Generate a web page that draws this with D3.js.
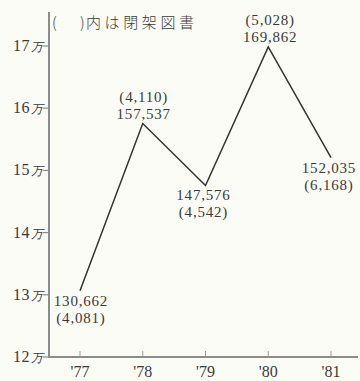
<!DOCTYPE html>
<html>
<head>
<meta charset="utf-8">
<script src="https://cdn.jsdelivr.net/npm/d3@7"></script>
<style>
html,body{margin:0;padding:0;background:#fcfcf6;}
svg{display:block;}
text{font-family:"Liberation Serif","DejaVu Serif",serif;fill:#3a3a3a;}
</style>
</head>
<body>
<script>
const years = ["'77","'78","'79","'80","'81"];
const totals = [130662, 157537, 147576, 169862, 152035];
const closedStacks = ["4,081","4,110","4,542","5,028","6,168"];
const totalLabels = ["130,662","157,537","147,576","169,862","152,035"];
const yTicks = [120000,130000,140000,150000,160000,170000];
const yTickLabels = ["12","13","14","15","16","17"];
// label placement: "below" = total then (closed) under point, "above" = (closed) then total above point
const labelPos = ["below","above","below","above","below"];
const noteBracket = "(";
const noteBracketClose = ")";
const noteText = "内は閉架図書";

const W = 360, H = 381;
const svg = d3.select("body").append("svg").attr("width", W).attr("height", H);

const x = d3.scalePoint().domain(years).range([80, 331]);
const y = d3.scaleLinear().domain([120000, 170000]).range([357, 46]);

// axes
svg.append("line").attr("x1",49).attr("x2",49).attr("y1",12).attr("y2",357.5)
  .attr("stroke","#8c8c8c").attr("stroke-width",2);
svg.append("line").attr("x1",48).attr("x2",358).attr("y1",357).attr("y2",357)
  .attr("stroke","#8c8c8c").attr("stroke-width",2);

// y ticks
const yt = svg.append("g");
yTicks.forEach((v,i)=>{
  const yy = y(v);
  yt.append("line").attr("x1",43).attr("x2",49).attr("y1",yy).attr("y2",yy)
    .attr("stroke","#8c8c8c").attr("stroke-width",1.2);
  const t = yt.append("text").attr("x",43).attr("y",yy+5).attr("text-anchor","end");
  t.append("tspan").attr("font-size",16).attr("letter-spacing",0.5).text(yTickLabels[i]);
  t.append("tspan").attr("font-size",12).attr("font-style","italic").attr("dx",1).text("万");
});

// x ticks
years.forEach(yr=>{
  const xx = x(yr);
  svg.append("line").attr("x1",xx).attr("x2",xx).attr("y1",351).attr("y2",357)
    .attr("stroke","#9a9a9a").attr("stroke-width",1);
  svg.append("text").attr("x",xx).attr("y",377).attr("text-anchor","middle")
    .attr("font-size",16).text(yr);
});

// line
const line = d3.line().x((d,i)=>x(years[i])).y(d=>y(d));
svg.append("path").datum(totals).attr("d",line).attr("fill","none")
  .attr("stroke","#333").attr("stroke-width",1.5);

// labels
const nudges = [1,1,-2,2,-2];
totals.forEach((v,i)=>{
  const xx = x(years[i]) + nudges[i];
  const yy = y(v);
  const g = svg.append("g").attr("font-size",15).attr("letter-spacing",0.8);
  if (labelPos[i]==="above"){
    g.append("text").attr("x",xx).attr("y",yy-22).attr("text-anchor","middle").text("("+closedStacks[i]+")");
    g.append("text").attr("x",xx).attr("y",yy-5).attr("text-anchor","middle").text(totalLabels[i]);
  } else {
    g.append("text").attr("x",xx).attr("y",yy+15).attr("text-anchor","middle").text(totalLabels[i]);
    g.append("text").attr("x",xx).attr("y",yy+32).attr("text-anchor","middle").text("("+closedStacks[i]+")");
  }
});

// note
const nt = svg.append("text").attr("y",28).attr("font-size",15)
  .style("font-family","'Noto Sans CJK JP',sans-serif").style("font-weight",300);
nt.append("tspan").attr("x",52).text(noteBracket);
nt.append("tspan").attr("x",80).text(noteBracketClose);
nt.append("tspan").attr("x",86).attr("textLength",108).attr("lengthAdjust","spacing").text(noteText);
</script>
</body>
</html>
